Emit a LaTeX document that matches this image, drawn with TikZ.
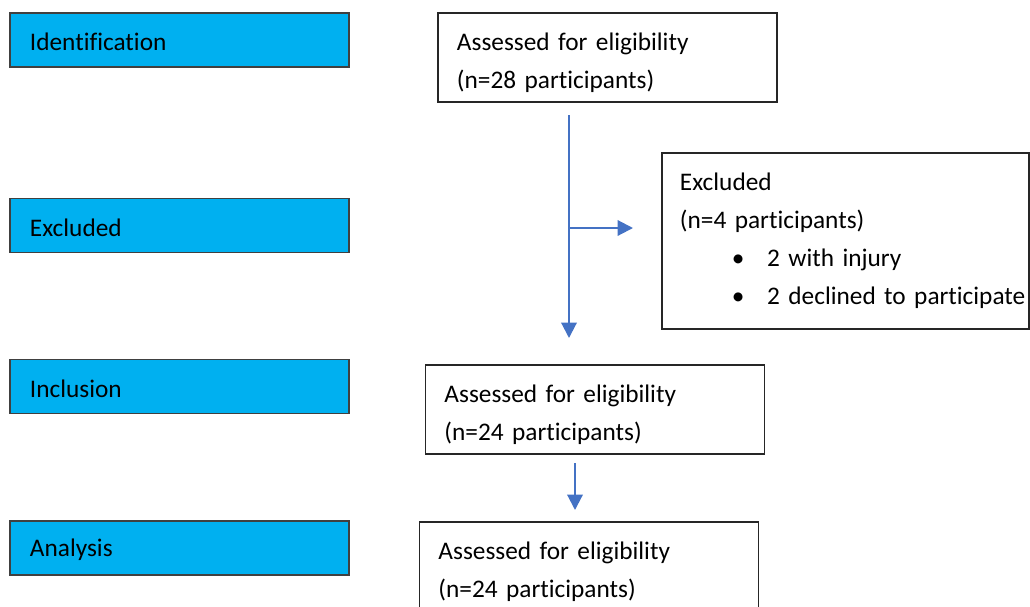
\documentclass[tikz,border=0pt]{standalone}
\usepackage{fontspec}
\setmainfont{Carlito}[Ligatures={NoCommon}]
\usetikzlibrary{arrows.meta}
\definecolor{phaseblue}{HTML}{00B0F0}
\definecolor{arrowblue}{HTML}{4472C4}
\tikzset{
  phase/.style={draw=black!75, line width=0.9pt, fill=phaseblue, minimum width=8.475cm, minimum height=1.35cm, text width=7.475cm, align=left, inner xsep=0.5cm, inner ysep=0pt, execute at begin node={\rule{0pt}{15.5pt}}},
  listbox/.style={draw=black!85, line width=0.9pt, fill=white, minimum height=2.225cm, text width=7.525cm, align=left, inner xsep=0.475cm},
  flowbox/.style={listbox, execute at begin node={\rule{0pt}{20pt}}},
  flowarrow/.style={draw=arrowblue, line width=1.5pt, -{Triangle[length=11pt,width=11pt]}}
}
\begin{document}
\begin{tikzpicture}[x=0.025cm,y=-0.025cm,font=\fontsize{18}{27}\selectfont]
                \useasboundingbox (0,0) rectangle (1030,606);
                \node[phase] (identification) at (179.5,40) {Identification};
                \node[phase] (excluded) at (179.5,225.5) {Excluded};
                \node[phase] (inclusion) at (179.5,386.5) {Inclusion};
                \node[phase] (analysis) at (179.5,548) {Analysis};

                \node[flowbox] (assessed) at (607.5,57.5) {Assessed for eligibility\\(n=28 participants)};
                \node[listbox, minimum height=4.4cm, text width=8.275cm, inner xsep=0.45cm] (excludedbox) at (845.5,241) {Excluded\\(n=4 participants)\\\mbox{\hspace*{37pt}\makebox[25pt][l]{\textbullet}2 with injury}\\\mbox{\hspace*{37pt}\makebox[25pt][l]{\textbullet}2 declined to participate}};
                \node[flowbox] (included) at (595,409.5) {Assessed for eligibility\\(n=24 participants)};
                \node[flowbox] (analysed) at (589,566.5) {Assessed for eligibility\\(n=24 participants)};

                \coordinate (start) at (569,115);
                \coordinate (split) at (569,228);
                \coordinate (side) at (633,228);
                \coordinate (stop) at (569,338);
                \coordinate (from) at (575,463);
                \coordinate (to) at (575,510);
                \draw[flowarrow] (start) -- (stop);
                \draw[flowarrow] (split) -- (side);
                \draw[flowarrow] (from) -- (to);
            \end{tikzpicture}
\end{document}
